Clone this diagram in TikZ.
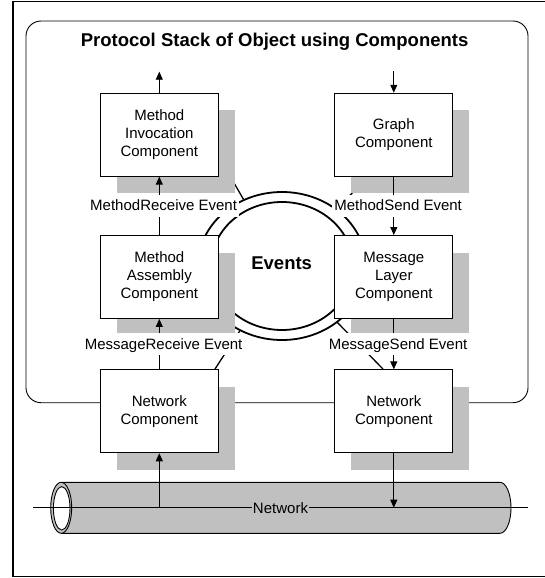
\documentclass[tikz,border=0pt]{standalone}
\usepackage{fontspec}
\setmainfont{Liberation Sans}
\usetikzlibrary{arrows.meta,shadows}
\definecolor{shade}{HTML}{C0C0C0}
\begin{document}
\begin{tikzpicture}[x=1pt,y=-1pt,
  >={Triangle[length=8pt,width=7pt]},
  comp/.style={draw,fill=white,line width=0.9pt,minimum width=118pt,minimum height=83pt,
    align=center,font=\fontsize{15}{18}\selectfont,
    drop shadow={shadow xshift=16.6pt,shadow yshift=-17pt,fill=shade,opacity=1}},
  evlabel/.style={fill=white,xshift=4.3pt,inner xsep=2pt,inner ysep=3pt,
    text height=13pt,text depth=3pt,font=\fontsize{15}{18}\selectfont},
  ring/.style={line width=1.8pt},
  spoke/.style={line width=1.3pt},
  flow/.style={->,line width=0.9pt}]
  \useasboundingbox (0,0) rectangle (544,578);
  \draw[line width=1.8pt] (546,1.5) -- (13,1.5) -- (13,576.5) -- (546,576.5);
  \draw[line width=0.9pt,rounded corners=15pt] (26,21) rectangle (528,402.7);
  \node[anchor=base,font=\fontsize{18.5}{22}\selectfont\bfseries] (title) at (274.6,46.7)
    {Protocol Stack of Object using Components};

  \coordinate (hub) at (282,266);
  \coordinate (spokeA) at (230,176);
  \coordinate (spokeB) at (360,185);
  \coordinate (spokeC) at (215,369);
  \coordinate (spokeD) at (383,369);
  \draw[spoke] (hub) -- (spokeA);
  \draw[spoke] (hub) -- (spokeB);
  \draw[spoke] (hub) -- (spokeC);
  \draw[spoke] (hub) -- (spokeD);
  \draw[ring,fill=white] (hub) ellipse [x radius=84pt, y radius=74pt];
  \draw[ring] (hub) ellipse [x radius=71pt, y radius=64pt];
  \node[font=\fontsize{18.5}{22}\selectfont\bfseries] (events) at (281.7,263.3) {Events};

  \node[comp] (invocation) at (159.3,134.7) {Method\\Invocation\\Component};
  \node[comp] (graph)      at (393.8,134.7) {Graph\\Component};
  \node[comp] (assembly)   at (159.3,277)   {Method\\Assembly\\Component};
  \node[comp] (layer)      at (393.8,277)   {Message\\Layer\\Component};
  \node[comp] (netL)       at (159.3,411.3) {Network\\Component};
  \node[comp] (netR)       at (393.8,411.3) {Network\\Component};

  \coordinate (up)  at (159.3,71.7);
  \coordinate (down) at (393.8,71);
  \draw[flow] (invocation) -- (up);
  \draw[flow] (down) -- (graph);
  \draw[flow] (assembly) -- node[evlabel] (mrecv) {MethodReceive Event} (invocation);
  \draw[flow] (graph) -- node[evlabel] (msend) {MethodSend Event} (layer);
  \draw[flow] (netL) -- node[evlabel] (grecv) {MessageReceive Event} (assembly);
  \draw[flow] (layer) -- node[evlabel] (gsend) {MessageSend Event} (netR);

  \filldraw[fill=shade,line width=0.9pt] (61.7,482.3) -- (500,482.3)
    arc[start angle=90,end angle=-90,x radius=11pt,y radius=25.5pt] -- (61.7,533.3);
  \filldraw[fill=shade,line width=0.9pt] (61.2,507.8) ellipse [x radius=10.5pt,y radius=25.5pt];
  \filldraw[fill=white,line width=0.9pt] (61.7,508.3) ellipse [x radius=8.3pt,y radius=21.7pt];

  \coordinate (wireW) at (33,507.7);
  \coordinate (wireE) at (528,507.7);
  \coordinate (tapL) at (159.3,507.7);
  \coordinate (tapR) at (393.8,507.7);
  \draw[line width=0.9pt] (wireW) -- node[fill=shade,inner sep=1pt,font=\fontsize{15}{18}\selectfont] (network) {Network} (wireE);
  \draw[flow] (tapL) -- (netL);
  \draw[flow] (netR) -- (tapR);
\end{tikzpicture}
\end{document}
